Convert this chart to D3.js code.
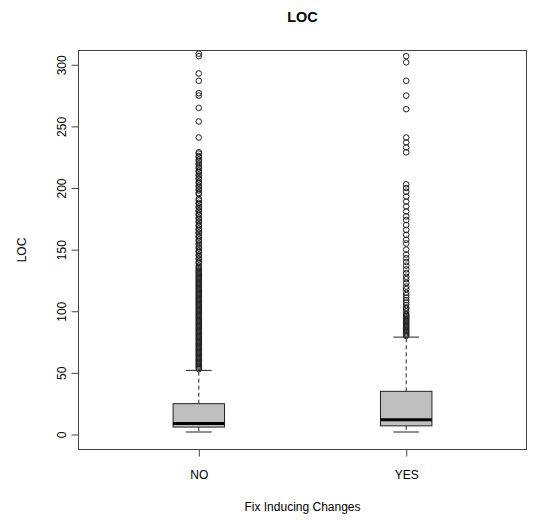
<!DOCTYPE html>
<html>
<head>
<meta charset="utf-8">
<script src="https://cdn.jsdelivr.net/npm/d3@7"></script>
<style>
  html, body { margin: 0; padding: 0; background: #fff; }
  svg { display: block; font-family: "Liberation Sans", Arial, Helvetica, sans-serif; }
</style>
</head>
<body>
<svg id="chart" width="534" height="521"></svg>
<script>
// Groups on the x axis
const groups = ["NO", "YES"];

// Box statistics per group: lower whisker, Q1, median, Q3, upper whisker
const whiskerLow = [2, 2];
const q1 = [6, 7];
const median = [9, 12];
const q3 = [25, 35];
const whiskerHigh = [52, 79];

// Outlying LOC values per group
const outliersNO = [
  53, 54, 55, 56, 57, 58, 59, 60, 61, 62, 63, 64, 65, 66, 67, 68, 69, 70,
  71, 72, 73, 74, 75, 76, 77, 78, 79, 80, 81, 82, 83, 84, 85, 86, 87, 88,
  89, 90, 91, 92, 93, 94, 95, 96, 97, 98, 99, 100, 101, 102, 103, 104, 105,
  106, 107, 108, 109, 110, 111, 112, 113, 114, 115, 116, 117, 118, 119, 120,
  121, 122, 123, 124, 125, 126, 127, 128, 129, 130, 131, 132, 133, 134, 135,
  136, 137, 139, 140, 142, 143, 145, 146, 148, 149, 151, 152, 154, 155, 157,
  158, 160, 161, 163, 164, 166, 167, 169, 170, 172, 173, 175, 176, 178, 179,
  181, 182, 184, 185, 187, 188, 190, 191, 195, 196, 198, 199, 201, 202, 204,
  205, 207, 208, 210, 211, 213, 214, 216, 217, 219, 220, 222, 223, 225, 226,
  228, 229, 241, 254, 265, 275, 277, 287, 293, 307, 309
];
const outliersYES = [
  80, 81, 82, 83, 84, 85, 86, 87, 88, 89, 90, 91, 92, 93, 94, 95, 96, 97,
  98, 100, 102, 103, 105, 107, 109, 111, 113, 115, 118, 120, 123, 126, 128,
  131, 134, 137, 140, 143, 146, 150, 155, 158, 162, 166, 170, 174, 177, 181,
  185, 189, 193, 197, 200, 203, 229, 233, 237, 241, 264, 275, 287, 302, 307
];
const outliers = [outliersNO, outliersYES];

// Axis ticks
const yTicks = [0, 50, 100, 150, 200, 250, 300];

// Text
const titleText = "LOC";
const yTitle = "LOC";
const xTitle = "Fix Inducing Changes";

const svg = d3.select("#chart");
const plot = { left: 78.5, right: 526.5, top: 50.5, bottom: 449.5 };

const x = d3.scaleLinear().domain([0.42, 2.58]).range([plot.left, plot.right]);
const y = d3.scaleLinear().domain([-12.2, 311.6]).range([plot.bottom, plot.top]);

const boxHalf = 0.124;   // half of box width in group units
const capHalf = 0.062;   // half of whisker cap width

const ink = "#222";

// Boxes, whiskers, medians
groups.forEach((g, i) => {
  const cx = x(i + 1);
  const grp = svg.append("g");

  // dashed whiskers
  grp.append("line")
    .attr("x1", cx).attr("x2", cx)
    .attr("y1", y(q3[i])).attr("y2", y(whiskerHigh[i]))
    .attr("stroke", ink).attr("stroke-width", 1).attr("stroke-dasharray", "4,3");
  grp.append("line")
    .attr("x1", cx).attr("x2", cx)
    .attr("y1", y(q1[i])).attr("y2", y(whiskerLow[i]))
    .attr("stroke", ink).attr("stroke-width", 1).attr("stroke-dasharray", "4,3");

  // whisker caps
  [whiskerLow[i], whiskerHigh[i]].forEach(v => {
    grp.append("line")
      .attr("x1", x(i + 1 - capHalf)).attr("x2", x(i + 1 + capHalf))
      .attr("y1", y(v)).attr("y2", y(v))
      .attr("stroke", ink).attr("stroke-width", 1);
  });

  // box
  grp.append("rect")
    .attr("x", x(i + 1 - boxHalf))
    .attr("y", y(q3[i]))
    .attr("width", x(i + 1 + boxHalf) - x(i + 1 - boxHalf))
    .attr("height", y(q1[i]) - y(q3[i]))
    .attr("fill", "#bebebe")
    .attr("stroke", ink).attr("stroke-width", 1);

  // median
  grp.append("line")
    .attr("x1", x(i + 1 - boxHalf)).attr("x2", x(i + 1 + boxHalf))
    .attr("y1", y(median[i])).attr("y2", y(median[i]))
    .attr("stroke", "#000").attr("stroke-width", 3);

  // outliers
  grp.selectAll("circle")
    .data(outliers[i])
    .join("circle")
    .attr("cx", cx)
    .attr("cy", d => y(d))
    .attr("r", 2.8)
    .attr("fill", "none")
    .attr("stroke", ink)
    .attr("stroke-width", 1);
});

// Plot frame
svg.append("rect")
  .attr("x", plot.left).attr("y", plot.top)
  .attr("width", plot.right - plot.left)
  .attr("height", plot.bottom - plot.top)
  .attr("fill", "none")
  .attr("stroke", "#444").attr("stroke-width", 1);

// Y axis (labels parallel to the axis)
const yAxis = d3.axisLeft(y).tickValues(yTicks).tickSize(7).tickPadding(4);
const yg = svg.append("g")
  .attr("transform", `translate(${plot.left},0)`)
  .call(yAxis);
yg.select(".domain")
  .attr("d", `M-0,${y(0)}V${y(300)}`)
  .attr("stroke", "#444");
yg.selectAll(".tick line").attr("stroke", "#444");
yg.selectAll(".tick text")
  .attr("font-size", 12)
  .attr("fill", "#000")
  .attr("x", 0).attr("dy", null)
  .attr("text-anchor", "middle")
  .attr("transform", "translate(-17,0) rotate(-90)")
  .attr("dominant-baseline", "central");

// X axis
const xAxis = d3.axisBottom(x).tickValues([1, 2]).tickFormat((d) => groups[d - 1]).tickSize(7).tickPadding(14);
const xg = svg.append("g")
  .attr("transform", `translate(0,${plot.bottom})`)
  .call(xAxis);
xg.select(".domain")
  .attr("d", `M${x(1)},0H${x(2)}`)
  .attr("stroke", "#444");
xg.selectAll(".tick line").attr("stroke", "#444");
xg.selectAll(".tick text").attr("font-size", 12).attr("fill", "#000");

// Titles
svg.append("text")
  .attr("x", (plot.left + plot.right) / 2)
  .attr("y", 22)
  .attr("text-anchor", "middle")
  .attr("font-size", 14.4)
  .attr("font-weight", "bold")
  .text(titleText);

svg.append("text")
  .attr("x", (plot.left + plot.right) / 2)
  .attr("y", 511)
  .attr("text-anchor", "middle")
  .attr("font-size", 12)
  .text(xTitle);

svg.append("text")
  .attr("transform", `translate(26,${(plot.top + plot.bottom) / 2}) rotate(-90)`)
  .attr("text-anchor", "middle")
  .attr("font-size", 12)
  .text(yTitle);
</script>
</body>
</html>
